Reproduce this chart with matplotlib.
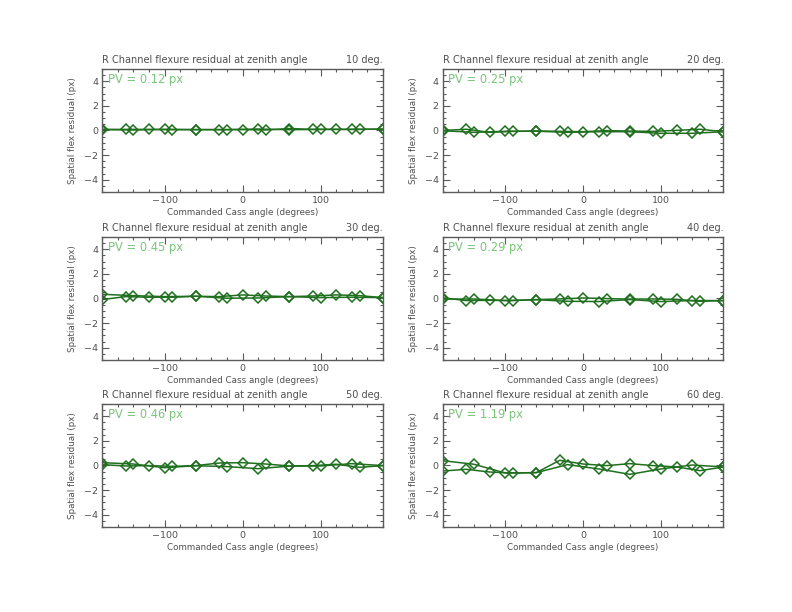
import matplotlib.pyplot as plt
from matplotlib.ticker import MultipleLocator
import numpy as np

# Cass angles for the two sweeps
angles_a = [-180, -150, -120, -90, -60, -30, 0, 30, 60, 90, 120, 150, 180]
angles_b = [-180, -140, -100, -60, -20, 20, 60, 100, 140, 180]

zenith = [10, 20, 30, 40, 50, 60]
pv_values = [0.12, 0.25, 0.45, 0.29, 0.46, 1.19]

# residuals (px), sweep A
res_a_10 = [0.09, 0.09, 0.09, 0.07, 0.07, 0.07, 0.07, 0.04, 0.16, 0.09, 0.09, 0.09, 0.11]
res_a_20 = [0.00, 0.10, -0.15, -0.07, -0.04, -0.07, -0.10, -0.01, -0.05, -0.07, 0.01, 0.10, -0.10]
res_a_30 = [-0.09, 0.15, 0.10, 0.10, 0.18, 0.15, 0.29, 0.20, 0.15, 0.20, 0.29, 0.23, 0.07]
res_a_40 = [0.05, -0.17, -0.15, -0.17, -0.09, -0.04, 0.04, -0.01, -0.05, -0.04, -0.07, -0.23, -0.17]
res_a_50 = [0.07, -0.04, -0.01, -0.07, -0.01, 0.20, 0.23, 0.12, -0.04, -0.01, 0.10, -0.15, -0.01]
res_a_60 = [-0.45, -0.31, -0.53, -0.61, -0.58, 0.42, 0.12, -0.01, 0.15, -0.01, -0.12, -0.42, -0.12]

# residuals (px), sweep B
res_b_10 = [0.07, 0.04, 0.09, 0.07, 0.07, 0.12, 0.06, 0.09, 0.09, 0.11]
res_b_20 = [-0.02, -0.15, -0.07, -0.06, -0.15, -0.10, -0.10, -0.23, -0.23, -0.10]
res_b_30 = [0.34, 0.23, 0.15, 0.18, 0.02, 0.04, 0.15, 0.07, 0.10, 0.07]
res_b_40 = [-0.05, -0.04, -0.17, -0.10, -0.23, -0.25, -0.09, -0.25, -0.17, -0.17]
res_b_50 = [0.23, 0.12, -0.18, -0.02, -0.09, -0.26, -0.05, -0.04, 0.15, -0.01]
res_b_60 = [0.39, 0.10, -0.61, -0.58, 0.07, -0.28, -0.72, -0.28, 0.04, -0.12]

res_a = [res_a_10, res_a_20, res_a_30, res_a_40, res_a_50, res_a_60]
res_b = [res_b_10, res_b_20, res_b_30, res_b_40, res_b_50, res_b_60]

GREEN = '#1f6f1f'
AXCOL = '#5a5a5a'
TXT = '#505050'

fig = plt.figure(figsize=(7.92, 6.12), dpi=100)

lefts = [0.129, 0.559]
bottoms = [0.6863, 0.4118, 0.1389]
w, h = 0.3545, 0.201

for i in range(6):
    row, col = divmod(i, 2)
    ax = fig.add_axes([lefts[col], bottoms[row], w, h])

    ax.plot(angles_a, res_a[i], color=GREEN, lw=1.1, marker='D', ms=4.6,
            mfc='none', mec=GREEN, mew=1.1)
    ax.plot(angles_b, res_b[i], color=GREEN, lw=1.1, marker='D', ms=4.6,
            mfc='none', mec=GREEN, mew=1.1)

    ax.set_xlim(-180, 180)
    ax.set_ylim(-5, 5)
    ax.xaxis.set_major_locator(MultipleLocator(100))
    ax.xaxis.set_minor_locator(MultipleLocator(20))
    ax.yaxis.set_major_locator(MultipleLocator(2))
    ax.yaxis.set_minor_locator(MultipleLocator(0.5))
    ax.tick_params(which='both', direction='in', top=True, right=True,
                   colors=AXCOL, labelcolor=TXT, labelsize=6.8, width=0.8, pad=3)
    ax.tick_params(which='major', length=5)
    ax.tick_params(which='minor', length=2.5)
    ax.set_xticks([-100, 0, 100])
    ax.set_xticklabels(['\u2212100', '0', '100'])
    ax.set_yticks([-4, -2, 0, 2, 4])
    ax.set_yticklabels(['\u22124', '\u22122', '0', '2', '4'])
    for s in ax.spines.values():
        s.set_color(AXCOL)
        s.set_linewidth(1.0)

    ax.set_xlabel('Commanded Cass angle (degrees)', fontsize=6.3, color=TXT, labelpad=2)
    ax.set_ylabel('Spatial flex residual (px)', fontsize=6.3, color=TXT, labelpad=5)

    ax.text(0.0, 1.03, 'R Channel flexure residual at zenith angle',
            transform=ax.transAxes, ha='left', va='bottom', fontsize=7.0, color=TXT)
    ax.text(1.0, 1.03, '%d deg.' % zenith[i],
            transform=ax.transAxes, ha='right', va='bottom', fontsize=7.0, color=TXT)
    ax.text(0.02, 0.97, 'PV = %.2f px' % pv_values[i],
            transform=ax.transAxes, ha='left', va='top', fontsize=8.3, color='#7cc47c')

fig.savefig('out.png', dpi=100)
